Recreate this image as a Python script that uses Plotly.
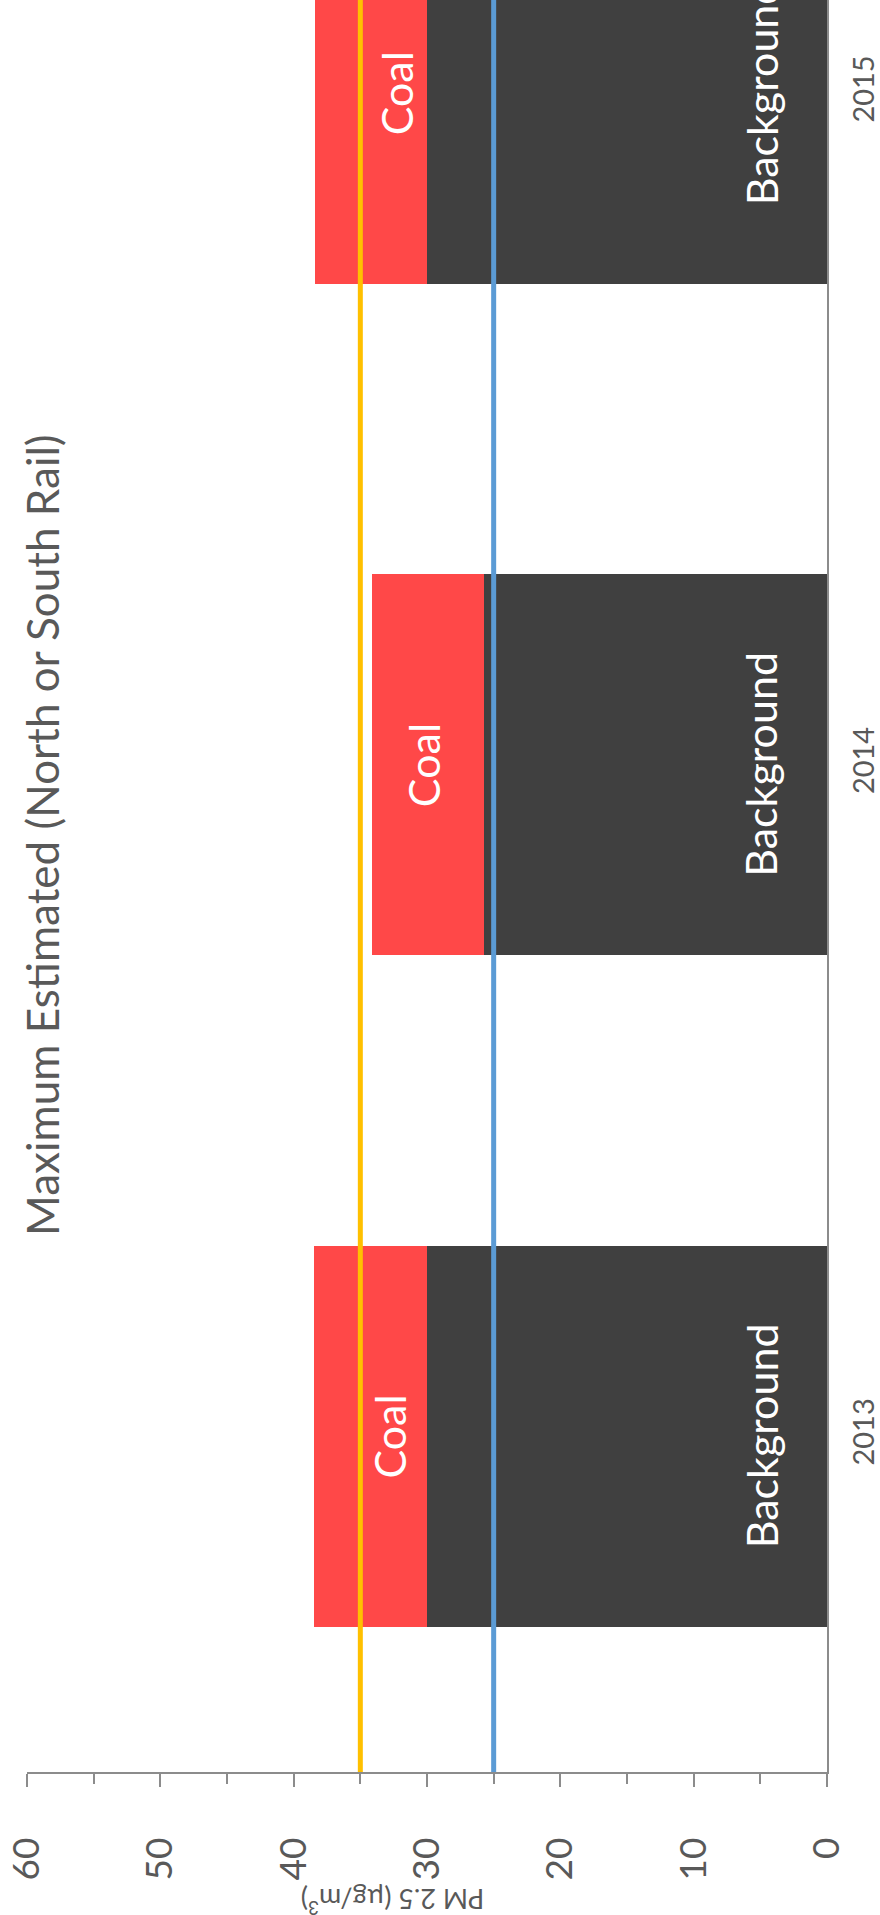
import plotly.graph_objects as go

# PM2.5 contributions per year (µg/m³)
years = ["2013", "2014", "2015"]
background = [30.0, 25.7, 30.0]
coal = [8.5, 8.4, 8.4]

# reference levels drawn across the chart (µg/m³)
standard_levels = [35, 25]
standard_colors = ["#FFC000", "#5B9BD5"]

value_ticks = [0, 10, 20, 30, 40, 50, 60]

FONT = "Lato"
GRAY_TEXT = "#595959"
AXIS_GRAY = "#8C8C8C"

fig = go.Figure()
fig.add_trace(go.Bar(
    y=years, x=background, orientation="h", name="Background",
    marker=dict(color="#404040", line=dict(width=0)), width=0.567,
))
fig.add_trace(go.Bar(
    y=years, x=coal, orientation="h", name="Coal",
    marker=dict(color="#FF4848", line=dict(width=0)), width=0.567,
))

for level, color in zip(standard_levels, standard_colors):
    fig.add_shape(type="line", xref="x", yref="paper", x0=level, x1=level,
                  y0=0, y1=1, line=dict(color=color, width=5), layer="above")

annotations = []
# manual horizontal nudges (px) for the "Coal" labels
coal_nudge = [19, -5, 25]
for i, yr in enumerate(years):
    # category axis annotations use the category index
    annotations.append(dict(
        x=0, y=i, xref="x", yref="y", text="Background", showarrow=False,
        textangle=-90, xshift=-66, xanchor="center", yanchor="middle",
        font=dict(family=FONT, size=43, color="white"),
    ))
    annotations.append(dict(
        x=background[i] + coal[i] / 2, y=i, xref="x", yref="y", text="Coal",
        showarrow=False, textangle=-90, xshift=coal_nudge[i],
        xanchor="center", yanchor="middle",
        font=dict(family=FONT, size=43, color="white"),
    ))

annotations.append(dict(
    x=0.018, y=0.529, xref="paper", yref="paper",
    text="Maximum Estimated (North or South Rail)", showarrow=False,
    textangle=-90, xanchor="center", yanchor="middle",
    font=dict(family=FONT, size=44, color=GRAY_TEXT),
))
annotations.append(dict(
    x=0.457, y=-0.0733, xref="paper", yref="paper",
    text="PM 2.5 (µg/m<sup>3</sup>)", showarrow=False,
    textangle=180, xanchor="center", yanchor="middle",
    font=dict(family=FONT, size=27, color=GRAY_TEXT),
))

fig.update_layout(
    width=880, height=1915,
    margin=dict(l=27, r=53, t=0, b=143, autoexpand=False),
    paper_bgcolor="white", plot_bgcolor="white",
    barmode="stack", showlegend=False,
    annotations=annotations,
    xaxis=dict(
        range=[60, 0], tickvals=value_ticks, ticktext=[str(v) for v in value_ticks],
        tickangle=-90, tickfont=dict(family=FONT, size=37, color=GRAY_TEXT),
        showgrid=False, zeroline=False, showline=True, linecolor=AXIS_GRAY, linewidth=1.5,
        ticks="outside", ticklen=13, tickwidth=1.5, tickcolor=AXIS_GRAY,
        minor=dict(dtick=5, tick0=0, ticks="outside", ticklen=10, tickwidth=1.5, tickcolor=AXIS_GRAY),
        ticklabelstandoff=36, automargin=False,
    ),
    xaxis2=dict(
        range=[60, 0], overlaying="x", matches="x", anchor="y", side="bottom",
        tickvals=value_ticks, showticklabels=False, showgrid=False, zeroline=False,
        showline=False, ticks="inside", ticklen=12, tickwidth=1.5, tickcolor=AXIS_GRAY,
        minor=dict(dtick=5, tick0=0, ticks="inside", ticklen=10, tickwidth=1.5, tickcolor=AXIS_GRAY),
    ),
    yaxis=dict(
        type="category", categoryorder="array", categoryarray=years,
        range=[-0.5, 2.139], side="right", showgrid=False, zeroline=False,
        showline=True, linecolor=AXIS_GRAY, linewidth=1.5, ticks="",
        tickangle=-90, tickfont=dict(family=FONT, size=29, color=GRAY_TEXT),
        ticklabelstandoff=10, automargin=False,
    ),
)

fig.write_html("out.html")
